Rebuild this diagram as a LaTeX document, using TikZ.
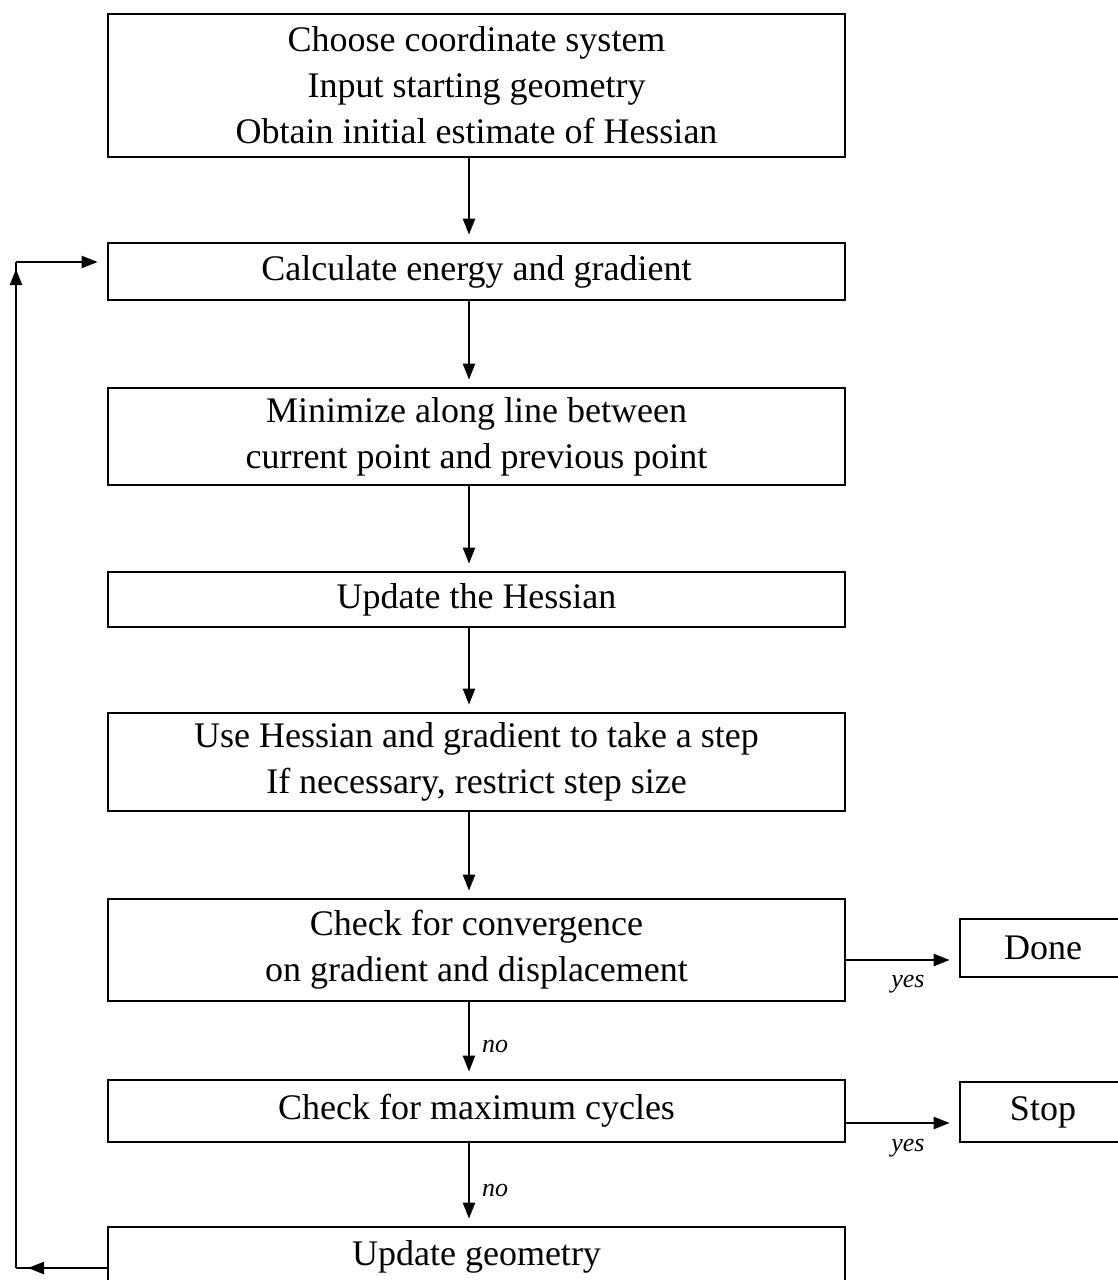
\documentclass[tikz,border=0pt]{standalone}
\usepackage{fontspec}
\setmainfont{Liberation Serif}
\usetikzlibrary{arrows.meta}
\begin{document}
\begin{tikzpicture}[x=1pt,y=-1pt,
  box/.style={draw=black, line width=2.8pt, fill=white, align=center, inner sep=0pt,
    minimum width=737pt, font=\fontsize{36}{46}\selectfont},
  sidebox/.style={draw=black, line width=2.8pt, fill=white, inner sep=0pt,
    minimum width=166pt, font=\fontsize{36}{46}\selectfont},
  arr/.style={line width=2.4pt, -{Triangle[width=12pt,length=16pt]}, shorten >=7pt},
  seg/.style={line width=2.4pt},
  lbl/.style={font=\fontsize{26}{30}\selectfont\itshape, inner sep=0pt}]
\useasboundingbox (0,0) rectangle (1118,1280);
\clip (0,0) rectangle (1118,1280);
\fill[white] (0,0) rectangle (1118,1280);

\node[box, minimum height=143pt] (n1) at (476.5,85.5)
  {Choose coordinate system\\Input starting geometry\\Obtain initial estimate of Hessian};
\node[box, minimum height=57pt] (n2) at (476.5,271.5) {Calculate energy and gradient};
\node[box, minimum height=97pt] (n3) at (476.5,436.5)
  {Minimize along line between\\current point and previous point};
\node[box, minimum height=55pt] (n4) at (476.5,599.5) {Update the Hessian};
\node[box, minimum height=98pt] (n5) at (476.5,762)
  {Use Hessian and gradient to take a step\\If necessary, restrict step size};
\node[box, minimum height=102pt] (n6) at (476.5,950)
  {Check for convergence\\on gradient and displacement};
\node[box, minimum height=62pt] (n7) at (476.5,1111) {Check for maximum cycles};
\node[box, minimum height=60pt] (n8) at (476.5,1257) {Update geometry};

\node[sidebox, minimum height=58pt] (done) at (1043,948) {Done};
\node[sidebox, minimum height=60pt] (stop) at (1043,1112) {Stop};

\coordinate (ax) at (469,0);
\draw[arr] (n1.south -| ax) -- (n2.north -| ax);
\draw[arr] (n2.south -| ax) -- (n3.north -| ax);
\draw[arr] (n3.south -| ax) -- (n4.north -| ax);
\draw[arr] (n4.south -| ax) -- (n5.north -| ax);
\draw[arr] (n5.south -| ax) -- (n6.north -| ax);
\draw[arr] (n6.south -| ax) -- (n7.north -| ax);
\draw[arr] (n7.south -| ax) -- (n8.north -| ax);

\node[lbl, anchor=west] (no1) at (482,1046) {no};
\node[lbl, anchor=west] (no2) at (482,1190) {no};

\coordinate (dy) at (0,960);
\coordinate (sy) at (0,1123);
\draw[arr, shorten >=9pt] (n6.east |- dy) -- (done.west |- dy);
\draw[arr, shorten >=9pt] (n7.east |- sy) -- (stop.west |- sy);
\node[lbl] (yes1) at (908,984) {yes};
\node[lbl] (yes2) at (908,1148) {yes};

\coordinate (c1) at (16,1268);
\coordinate (c2) at (16,262);
\draw[arr, shorten >=0pt] (n8.west |- c1) -- ([xshift=12pt]c1);
\draw[seg] ([xshift=14pt]c1) -- (c1);
\draw[arr, shorten >=0pt] (c1) -- ([yshift=-7pt]c2);
\draw[seg] ([yshift=-9pt]c2) -- (c2);
\draw[arr, shorten >=9pt] (c2) -- (n2.west |- c2);
\end{tikzpicture}
\end{document}
